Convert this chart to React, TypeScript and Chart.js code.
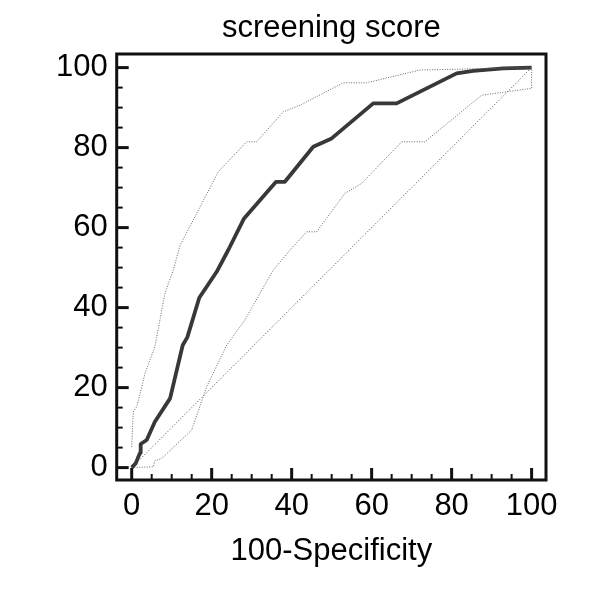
import React, { useEffect, useRef } from "react";
import { Chart, registerables } from "chart.js";

Chart.register(...registerables);

const titleText = "screening score";
const xTitleText = "100-Specificity";

const majorTicks = [0, 20, 40, 60, 80, 100];
const minorTicks = [5, 10, 15, 25, 30, 35, 45, 50, 55, 65, 70, 75, 85, 90, 95];

// ROC curve (100-Specificity, Sensitivity)
const rocX = [0, 1.0, 1.4, 2.1, 2.25, 3.75, 5.8, 9.6, 12.75, 13.9, 16.9, 21.25, 24.15, 28.1, 36.1, 38.3, 45.4, 50, 60.4, 66.25, 81.25, 85.4, 92.9, 100];
const rocY = [0, 1.05, 2.05, 3.7, 5.9, 6.9, 11.45, 17.3, 30.6, 32.55, 42.45, 48.95, 54.4, 62.3, 71.45, 71.45, 80.2, 82.3, 91.05, 91.05, 98.55, 99.2, 99.8, 100];

// Upper confidence bound
const upperX = [0, 0.4, 1.25, 2.75, 3.3, 5.8, 8.3, 10.4, 12.1, 16.25, 21.65, 28.75, 31.25, 37.9, 42.1, 52.9, 58.75, 72.1, 100];
const upperY = [5.2, 13.95, 15.2, 21.05, 23.55, 30.2, 43.55, 49.4, 55.6, 63.55, 73.95, 81.45, 81.45, 88.95, 90.6, 96.2, 96.2, 99.4, 100];

// Lower confidence bound
const lowerX = [0, 5.4, 5.8, 7.5, 15, 18.75, 23.75, 28.3, 35.4, 39.6, 43.75, 46.25, 53.3, 57.5, 67.5, 73.3, 87.5, 100, 100];
const lowerY = [0, 0.2, 1.7, 2.3, 9.4, 20.2, 30.6, 36.9, 49.4, 54.4, 58.95, 58.95, 68.55, 71.05, 81.45, 81.45, 93.1, 94.8, 100];

// Reference diagonal
const diagX = [0, 100];
const diagY = [0, 100];

const FONT = "'Liberation Sans', Arial, Helvetica, sans-serif";
const FS = 31;

const toPts = (xs: number[], ys: number[]) => xs.map((x, i) => ({ x, y: ys[i] }));

const framePlugin = {
  id: "frameTicks",
  afterDraw(chart: any) {
    const { ctx, chartArea } = chart;
    const xs = chart.scales.x;
    const ys = chart.scales.y;
    ctx.save();
    ctx.strokeStyle = "#111";
    ctx.lineCap = "butt";
    // minor ticks
    ctx.lineWidth = 2;
    minorTicks.forEach((v) => {
      const px = xs.getPixelForValue(v);
      ctx.beginPath();
      ctx.moveTo(px, chartArea.bottom);
      ctx.lineTo(px, chartArea.bottom - 6);
      ctx.stroke();
      const py = ys.getPixelForValue(v);
      ctx.beginPath();
      ctx.moveTo(chartArea.left, py);
      ctx.lineTo(chartArea.left + 6, py);
      ctx.stroke();
    });
    // major ticks
    ctx.lineWidth = 3;
    majorTicks.forEach((v) => {
      const px = xs.getPixelForValue(v);
      ctx.beginPath();
      ctx.moveTo(px, chartArea.bottom);
      ctx.lineTo(px, chartArea.bottom - 12);
      ctx.stroke();
      const py = ys.getPixelForValue(v);
      ctx.beginPath();
      ctx.moveTo(chartArea.left, py);
      ctx.lineTo(chartArea.left + 12, py);
      ctx.stroke();
    });
    // frame
    ctx.lineWidth = 3;
    ctx.strokeRect(chartArea.left, chartArea.top, chartArea.right - chartArea.left, chartArea.bottom - chartArea.top);
    ctx.restore();
  },
};

export default function App() {
  const ref = useRef<HTMLCanvasElement | null>(null);

  useEffect(() => {
    if (!ref.current) return;
    const chart = new Chart(ref.current, {
      type: "line",
      data: {
        datasets: [
          {
            label: "Diagonal",
            data: toPts(diagX, diagY),
            borderColor: "#444",
            borderWidth: 1,
            borderDash: [1, 2],
            pointRadius: 0,
            fill: false,
          },
          {
            label: "Lower CI",
            data: toPts(lowerX, lowerY),
            borderColor: "#666",
            borderWidth: 1,
            borderDash: [1, 1.5],
            pointRadius: 0,
            fill: false,
          },
          {
            label: "Upper CI",
            data: toPts(upperX, upperY),
            borderColor: "#666",
            borderWidth: 1,
            borderDash: [1, 1.5],
            pointRadius: 0,
            fill: false,
          },
          {
            label: "screening score",
            data: toPts(rocX, rocY),
            borderColor: "#383838",
            borderWidth: 3.8,
            pointRadius: 0,
            fill: false,
            borderJoinStyle: "round",
          },
        ],
      },
      options: {
        animation: false,
        responsive: false,
        maintainAspectRatio: false,
        layout: { padding: { top: 0, left: 0, right: 54, bottom: 0 } },
        plugins: {
          legend: { display: false },
          tooltip: { enabled: false },
          title: {
            display: true,
            text: titleText,
            fullSize: false,
            color: "#000",
            font: { family: FONT, size: FS, weight: "normal", lineHeight: 1.2 },
            padding: { top: 9.4, bottom: 7.4 },
          },
        },
        scales: {
          x: {
            type: "linear",
            min: -3.75,
            max: 103.6,
            afterBuildTicks: (axis: any) => {
              axis.ticks = majorTicks.map((v) => ({ value: v }));
            },
            afterFit: (scale: any) => {
              scale.height = 120;
            },
            grid: { display: false, drawTicks: false },
            border: { display: false },
            ticks: {
              color: "#000",
              padding: 7.9,
              maxRotation: 0,
              autoSkip: false,
              font: { family: FONT, size: FS },
            },
            title: {
              display: true,
              text: xTitleText,
              color: "#000",
              font: { family: FONT, size: FS, lineHeight: 1.2 },
              padding: { top: 0, bottom: 30.4 },
            },
          },
          y: {
            type: "linear",
            min: -3.1,
            max: 103.4,
            afterBuildTicks: (axis: any) => {
              axis.ticks = majorTicks.map((v) => ({ value: v }));
            },
            afterFit: (scale: any) => {
              scale.width = 116.7;
            },
            grid: { display: false, drawTicks: false },
            border: { display: false },
            ticks: {
              color: "#000",
              padding: 9,
              autoSkip: false,
              font: { family: FONT, size: FS },
            },
          },
        },
      },
      plugins: [framePlugin],
    } as any);
    return () => chart.destroy();
  }, []);

  return (
    <div style={{ position: "absolute", left: 0, top: 0, width: 600, height: 600, background: "#fff" }}>
      <canvas ref={ref} width={600} height={600} style={{ width: 600, height: 600, display: "block" }} />
    </div>
  );
}
